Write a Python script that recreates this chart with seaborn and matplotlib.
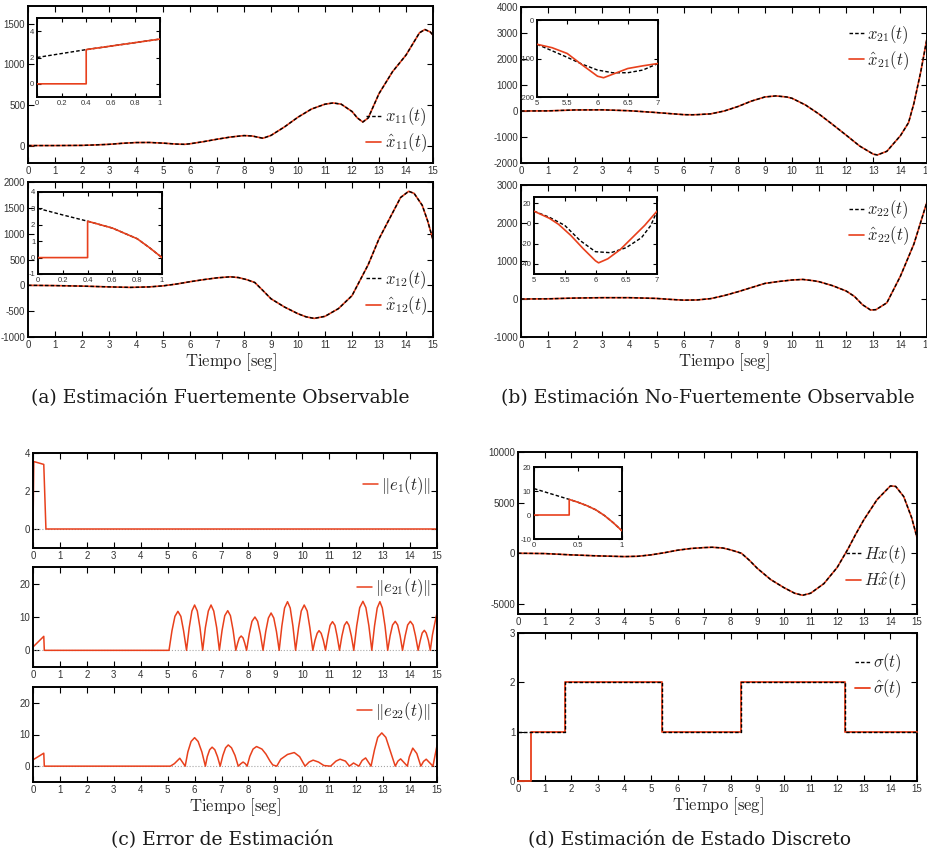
"""Observer estimation figure: four panels (a)-(d) with zoom insets."""

import seaborn as sns
import matplotlib.pyplot as plt
from matplotlib.lines import Line2D
from matplotlib.ticker import FormatStrFormatter

W, H = 927, 859
RED = "#e8401c"

# ---------------- (a) strongly observable states ----------------
t_x11 = [0, 1, 2, 2.5, 3, 3.5, 4, 4.5, 5, 5.5, 5.8, 6, 6.5, 7, 7.5, 8, 8.3, 8.7, 9, 9.5,
         10, 10.5, 11, 11.3, 11.6, 12, 12.2, 12.4, 12.6, 13, 13.5, 14, 14.3, 14.5, 14.7, 14.9, 15]
x11 = [0, 0, 2, 8, 15, 28, 37, 38, 30, 18, 15, 22, 48, 78, 105, 123, 118, 90, 125, 230,
       350, 450, 510, 525, 510, 420, 340, 290, 340, 640, 910, 1115, 1280, 1390, 1430, 1400, 1360]

t_x12 = [0, 1, 2, 3, 3.8, 4.5, 5, 5.5, 6, 6.5, 7, 7.5, 7.8, 8.1, 8.4, 8.7, 9, 9.5, 10, 10.3,
         10.6, 11, 11.5, 12, 12.3, 12.6, 13, 13.5, 13.8, 14.1, 14.3, 14.6, 14.8, 15]
x12 = [0, -5, -15, -30, -40, -30, -10, 25, 70, 110, 145, 165, 150, 110, 55, -100, -260, -420, -550, -610,
       -640, -600, -450, -200, 100, 400, 900, 1400, 1700, 1820, 1780, 1550, 1250, 880]

t_x11_zoom = [0, 0.4, 0.7, 1.0]
x11_zoom = [2.0, 2.6, 3.0, 3.4]
t_x11_hat_zoom = [0, 0.4, 0.4, 0.7, 1.0]
x11_hat_zoom = [0, 0, 2.6, 3.0, 3.4]

t_x12_zoom = [0, 0.2, 0.4, 0.6, 0.8, 0.9, 1.0]
x12_zoom = [3.0, 2.6, 2.22, 1.8, 1.15, 0.6, 0.0]
t_x12_hat_zoom = [0, 0.4, 0.4, 0.6, 0.8, 0.9, 1.0]
x12_hat_zoom = [0, 0, 2.22, 1.8, 1.15, 0.6, 0.0]

# ---------------- (b) not strongly observable states ----------------
t_x21 = [0, 1, 2, 3, 4, 5, 5.5, 6, 6.3, 6.5, 7, 7.5, 8, 8.5, 9, 9.4, 9.8, 10, 10.5, 11,
         11.5, 12, 12.5, 13, 13.15, 13.5, 14, 14.3, 14.5, 14.75, 15]
x21 = [0, 5, 40, 45, 10, -60, -100, -140, -145, -140, -110, 0, 170, 380, 540, 580, 540, 490, 230, -120,
       -520, -930, -1350, -1660, -1690, -1550, -950, -450, 300, 1500, 2900]

t_x22 = [0, 1, 2, 3, 4, 5, 5.5, 6, 6.5, 7, 7.5, 8, 8.5, 9, 9.5, 10, 10.4, 10.8, 11, 11.5,
         12, 12.3, 12.6, 12.9, 13.1, 13.5, 14, 14.5, 15]
x22 = [0, 5, 25, 35, 35, 15, -10, -30, -25, 10, 90, 190, 300, 410, 460, 500, 515, 480, 455, 350,
       210, 70, -150, -290, -280, -100, 600, 1450, 2600]

t_x21_zoom = [5, 5.25, 5.5, 5.75, 6, 6.25, 6.5, 6.75, 7]
x21_zoom = [-63, -80, -97, -115, -130, -137, -137, -130, -113]
t_x21_hat_zoom = [5, 5.25, 5.5, 5.75, 6, 6.1, 6.25, 6.5, 6.75, 7]
x21_hat_zoom = [-63, -72, -87, -117, -146, -150, -141, -126, -119, -113]

t_x22_zoom = [5, 5.25, 5.5, 5.75, 6, 6.25, 6.5, 6.75, 6.9, 7]
x22_zoom = [12, 6, -2, -17, -28, -29, -24, -14, -2, 12]
t_x22_hat_zoom = [5, 5.25, 5.4, 5.6, 5.8, 6.0, 6.05, 6.2, 6.4, 6.6, 6.8, 7]
x22_hat_zoom = [12, 5, -1, -12, -25, -37, -39, -35, -26, -14, -2, 12]

# ---------------- (c) estimation errors ----------------
t_e1 = [0, 0.03, 0.4, 0.48, 15]
e1 = [0, 3.55, 3.4, 0, 0]

t_e21 = [0, 0.4, 0.42, 5.05,
         5.16, 5.27, 5.38, 5.49, 5.59, 5.7,
         5.8, 5.9, 6.0, 6.1, 6.2, 6.3,
         6.4, 6.51, 6.61, 6.71, 6.82, 6.92,
         7.02, 7.12, 7.23, 7.33, 7.43, 7.53,
         7.6, 7.66, 7.73, 7.8, 7.86, 7.93,
         8.03, 8.13, 8.24, 8.34, 8.44, 8.54,
         8.64, 8.74, 8.84, 8.94, 9.04, 9.14,
         9.24, 9.34, 9.45, 9.55, 9.65, 9.75,
         9.86, 9.96, 10.07, 10.18, 10.28, 10.39,
         10.47, 10.55, 10.62, 10.7, 10.78, 10.86,
         10.95, 11.03, 11.12, 11.21, 11.29, 11.38,
         11.47, 11.56, 11.65, 11.73, 11.82, 11.91,
         12.02, 12.13, 12.25, 12.36, 12.47, 12.58,
         12.68, 12.78, 12.88, 12.97, 13.07, 13.17,
         13.26, 13.35, 13.45, 13.54, 13.63, 13.72,
         13.82, 13.91, 14.01, 14.11, 14.2, 14.3,
         14.38, 14.45, 14.53, 14.6, 14.68, 14.75,
         14.83, 14.92, 15.0]
e21 = [1.0, 4.2, 0, 0,
       5.9, 10.2, 11.7, 10.2, 5.9, 0,
       6.8, 11.8, 13.6, 11.8, 6.8, 0,
       6.8, 11.8, 13.6, 11.8, 6.8, 0,
       6.0, 10.4, 11.9, 10.4, 6.0, 0,
       2.2, 3.7, 4.3, 3.7, 2.2, 0,
       5.0, 8.7, 10.0, 8.7, 5.0, 0,
       5.6, 9.7, 11.2, 9.7, 5.6, 0,
       7.3, 12.7, 14.6, 12.7, 7.3, 0,
       6.8, 11.8, 13.6, 11.8, 6.8, 0,
       3.0, 5.1, 5.9, 5.1, 3.0, 0,
       4.3, 7.5, 8.6, 7.5, 4.3, 0,
       4.3, 7.5, 8.6, 7.5, 4.3, 0,
       7.4, 12.8, 14.7, 12.8, 7.4, 0,
       7.3, 12.7, 14.6, 12.7, 7.3, 0,
       4.4, 7.6, 8.7, 7.6, 4.4, 0,
       4.4, 7.6, 8.7, 7.6, 4.4, 0,
       3.0, 5.2, 6.0, 5.2, 3.0, 0,
       4.6, 8.2, 11.2]

t_e22 = [0, 0.4, 0.42, 5.1, 5.25, 5.45, 5.65, 5.75, 5.87, 6.0, 6.13, 6.27, 6.4,
         6.47, 6.56, 6.65, 6.75, 6.85, 6.95, 7.05, 7.15, 7.25, 7.37, 7.5, 7.62,
         7.72, 7.8, 7.88, 7.95, 8.05, 8.17, 8.3, 8.5, 8.65, 8.8, 8.9, 9.05,
         9.2, 9.45, 9.7, 9.9, 10.1,
         10.25, 10.4, 10.6, 10.8, 11.05, 11.25, 11.4, 11.6, 11.75, 11.9, 12.1,
         12.22, 12.35, 12.55, 12.68, 12.8, 12.95, 13.1, 13.25, 13.45,
         13.55, 13.65, 13.9, 13.97, 14.1, 14.25, 14.4, 14.5, 14.6, 14.85, 14.93, 15.0]
e22 = [2.0, 4.1, 0, 0, 0.8, 2.5, 0, 4.5, 7.8, 9.0, 7.8, 4.5, 0,
       3.0, 5.2, 6.0, 5.2, 3.0, 0, 3.4, 5.8, 6.7, 5.8, 3.4, 0,
       0.8, 1.3, 0.8, 0, 3.1, 5.4, 6.2, 5.4, 3.8, 1.6, 0.4, 0,
       2.2, 3.7, 4.3, 3.0, 0,
       1.3, 1.9, 1.3, 0.2, 0, 1.6, 2.2, 1.6, 0, 1.0, 0,
       1.8, 2.6, 0, 5.2, 9.1, 10.5, 9.1, 5.2, 0,
       1.6, 2.3, 0, 2.9, 5.7, 4.0, 0, 1.5, 2.2, 0, 3.5, 6.5]

# ---------------- (d) output and discrete state ----------------
t_hx = [0, 1, 2, 3, 4, 4.5, 5, 5.5, 6, 6.5, 7, 7.3, 7.7, 8, 8.4, 8.7, 9, 9.5, 10, 10.4,
        10.7, 11, 11.5, 12, 12.4, 12.7, 13, 13.5, 14, 14.2, 14.5, 14.8, 15]
hx = [0, -30, -160, -260, -330, -300, -160, 50, 300, 470, 560, 590, 520, 330, 0, -700, -1500, -2600, -3400, -3950,
      -4150, -3950, -3000, -1400, 400, 1900, 3300, 5300, 6650, 6600, 5600, 3500, 1550]

t_hx_zoom = [0, 0.4, 0.5, 0.6, 0.7, 0.8, 0.9, 1.0]
hx_zoom = [11.0, 6.5, 5.3, 3.9, 2.2, -0.2, -3.2, -6.6]
t_hx_hat_zoom = [0, 0.4, 0.4, 0.5, 0.6, 0.7, 0.8, 0.9, 1.0]
hx_hat_zoom = [0, 0, 6.5, 5.3, 3.9, 2.2, -0.2, -3.2, -6.6]

t_sigma = [0, 1.75, 5.4, 8.4, 12.3, 15]
sigma = [1, 2, 1, 2, 1, 1]
t_sigma_hat = [0, 0.48, 1.75, 5.4, 8.4, 12.3, 15]
sigma_hat = [0, 1, 2, 1, 2, 1, 1]

T_TICKS = list(range(16))
DASH = (0, (2.5, 1.5))

sns.set_style("ticks")
plt.rcParams.update({
    "font.family": ["Liberation Sans", "DejaVu Sans"],
    "mathtext.fontset": "cm",
    "axes.unicode_minus": False,
    "axes.edgecolor": "black",
    "xtick.color": "black",
    "ytick.color": "black",
    "xtick.labelcolor": "0.2",
    "ytick.labelcolor": "0.2",
})


def rect(left, top, right, bottom):
    return [left / W, 1 - bottom / H, (right - left) / W, (bottom - top) / H]


def style(ax, xlim, ylim, xticks, yticks, length=4, labelsize=7):
    ax.set_xlim(xlim)
    ax.set_ylim(ylim)
    ax.set_xticks(xticks)
    ax.set_yticks(yticks)
    ax.tick_params(direction="in", top=True, right=True, length=length,
                   width=0.8, labelsize=labelsize, pad=2)
    ax.xaxis.set_major_formatter(FormatStrFormatter("%g"))
    ax.yaxis.set_major_formatter(FormatStrFormatter("%g"))
    ax.set_xlabel("")
    ax.set_ylabel("")
    for s in ax.spines.values():
        s.set_visible(True)
        s.set_linewidth(1.4)
        s.set_color("black")


def line(ax, t, y, color, ls="-", lw=1.2, label=None, z=2, **kw):
    sns.lineplot(x=t, y=y, ax=ax, color=color, linestyle=ls, linewidth=lw,
                 sort=False, estimator=None, label=label, legend=False,
                 zorder=z, **kw)


def pair(ax, t, y, t_hat, y_hat, lab, lab_hat, black_on_top=True, lw=1.2):
    zb, zr = (3, 2) if black_on_top else (2, 3)
    line(ax, t, y, "black", ls=DASH, lw=lw * 0.85, label=lab, z=zb)
    line(ax, t_hat, y_hat, RED, lw=lw, label=lab_hat, z=zr)


def legend(ax, anchor, handles=None, labels=None):
    args = [] if handles is None else [handles, labels]
    ax.legend(*args, loc="center right", bbox_to_anchor=anchor, frameon=False,
              fontsize=12, handlelength=0.9, handletextpad=0.2, labelspacing=0.2,
              borderaxespad=0, borderpad=0)


def xlabel(ax):
    ax.set_xlabel(r"$\mathrm{Tiempo\ [seg]}$", fontsize=12, labelpad=1)


fig = plt.figure(figsize=(W / 100, H / 100), dpi=100)

# (a)
ax = fig.add_axes(rect(28, 6, 433, 163))
pair(ax, t_x11, x11, t_x11, x11, r"$x_{11}(t)$", r"$\hat{x}_{11}(t)$")
style(ax, (0, 15), (-215, 1720), T_TICKS, [0, 500, 1000, 1500])
legend(ax, (0.985, 0.21))
ins = fig.add_axes(rect(37, 18, 160, 97))
pair(ins, t_x11_zoom, x11_zoom, t_x11_hat_zoom, x11_hat_zoom, None, None, black_on_top=False)
style(ins, (0, 1), (-1, 5), [0, 0.2, 0.4, 0.6, 0.8, 1], [0, 2, 4], length=3, labelsize=5.5)

ax = fig.add_axes(rect(28, 182, 433, 337))
pair(ax, t_x12, x12, t_x12, x12, r"$x_{12}(t)$", r"$\hat{x}_{12}(t)$")
style(ax, (0, 15), (-1000, 2000), T_TICKS, list(range(-1000, 2001, 500)))
legend(ax, (0.985, 0.285))
xlabel(ax)
ins = fig.add_axes(rect(38, 192, 162, 274))
pair(ins, t_x12_zoom, x12_zoom, t_x12_hat_zoom, x12_hat_zoom, None, None, black_on_top=False)
style(ins, (0, 1), (-1, 4), [0, 0.2, 0.4, 0.6, 0.8, 1], [-1, 0, 1, 2, 3, 4], length=3, labelsize=5.5)

# (b)
ax = fig.add_axes(rect(521, 7, 927.5, 163))
pair(ax, t_x21, x21, t_x21, x21, r"$x_{21}(t)$", r"$\hat{x}_{21}(t)$")
style(ax, (0, 15), (-2000, 4000), T_TICKS, list(range(-2000, 4001, 1000)))
legend(ax, (0.955, 0.74))
ins = fig.add_axes(rect(537, 20, 658, 97))
pair(ins, t_x21_zoom, x21_zoom, t_x21_hat_zoom, x21_hat_zoom, None, None, black_on_top=False)
style(ins, (5, 7), (-200, 0), [5, 5.5, 6, 6.5, 7], [-200, -100, 0], length=3, labelsize=5.5)

ax = fig.add_axes(rect(521, 185, 927.5, 337))
pair(ax, t_x22, x22, t_x22, x22, r"$x_{22}(t)$", r"$\hat{x}_{22}(t)$")
style(ax, (0, 15), (-1000, 3000), T_TICKS, list(range(-1000, 3001, 1000)))
legend(ax, (0.955, 0.75))
xlabel(ax)
ins = fig.add_axes(rect(534, 197, 657, 274))
pair(ins, t_x22_zoom, x22_zoom, t_x22_hat_zoom, x22_hat_zoom, None, None, black_on_top=False)
style(ins, (5, 7), (-50, 26), [5, 5.5, 6, 6.5, 7], [-40, -20, 0, 20], length=3, labelsize=5.5)

# (c)
err_axes = [
    (rect(33, 453, 437, 548), t_e1, e1, r"$\|e_1(t)\|$", (-1, 4), [0, 2, 4], 0.66),
    (rect(33, 567, 437, 667), t_e21, e21, r"$\|e_{21}(t)\|$", (-5, 25), [0, 10, 20], 0.79),
    (rect(33, 687, 437, 782), t_e22, e22, r"$\|e_{22}(t)\|$", (-5, 25), [0, 10, 20], 0.74),
]
for pos, t, e, lab, ylim, yt, ly in err_axes:
    ax = fig.add_axes(pos)
    ax.axhline(0, color="0.65", ls=":", lw=0.8, zorder=1)
    line(ax, t, e, RED, lw=1.1, label=lab)
    style(ax, (0, 15), ylim, T_TICKS, yt)
    legend(ax, (0.985, ly))
xlabel(ax)

# (d)
ax = fig.add_axes(rect(518, 452, 917, 614))
pair(ax, t_hx, hx, t_hx, hx, r"$Hx(t)$", r"$H\hat{x}(t)$")
style(ax, (0, 15), (-6000, 10000), T_TICKS, [-5000, 0, 5000, 10000])
legend(ax, (0.975, 0.285))
ins = fig.add_axes(rect(534, 467, 622, 539))
pair(ins, t_hx_zoom, hx_zoom, t_hx_hat_zoom, hx_hat_zoom, None, None, black_on_top=False)
style(ins, (0, 1), (-10, 20), [0, 0.5, 1], [-10, 0, 10, 20], length=3, labelsize=5.5)

ax = fig.add_axes(rect(518, 633, 917, 781))
line(ax, t_sigma_hat, sigma_hat, RED, lw=1.3, z=4, drawstyle="steps-post", clip_on=False)
line(ax, t_sigma, sigma, "black", ls=DASH, lw=1.0, z=5, drawstyle="steps-post")
style(ax, (0, 15), (0, 3), T_TICKS, [0, 1, 2, 3])
legend(ax, (0.962, 0.71),
       [Line2D([], [], color="black", ls=DASH, lw=1.0), Line2D([], [], color=RED, lw=1.3)],
       [r"$\sigma(t)$", r"$\hat{\sigma}(t)$"])
xlabel(ax)

# captions
cap = dict(ha="center", va="center", family="DejaVu Serif", fontsize=13.5, color="0.1")
fig.text(220 / W, 1 - 398 / H, "(a) Estimación Fuertemente Observable", **cap)
fig.text(708 / W, 1 - 398 / H, "(b) Estimación No-Fuertemente Observable", **cap)
fig.text(222 / W, 1 - 840 / H, "(c) Error de Estimación", **cap)
fig.text(690 / W, 1 - 840 / H, "(d) Estimación de Estado Discreto", **cap)

fig.savefig("out.png", dpi=100)
plt.close(fig)
